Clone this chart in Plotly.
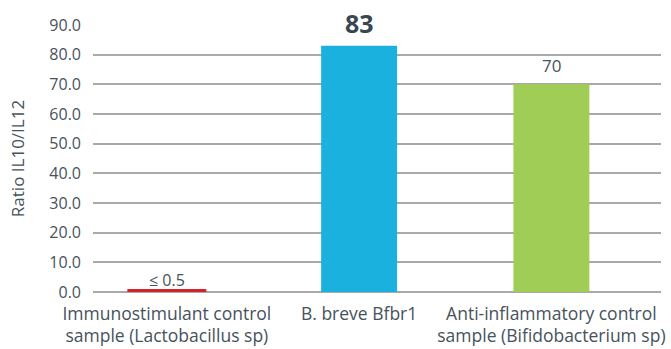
import plotly.graph_objects as go

# IL10/IL12 ratio per sample
categories = [
    "Immunostimulant control<br>sample (Lactobacillus sp)",
    "B. breve Bfbr1",
    "Anti-inflammatory control<br>sample (Bifidobacterium sp)",
]
ratios = [0.5, 83, 70]
value_labels = ["≤ 0.5", "83", "70"]
bar_colors = ["#d2232a", "#1bb1de", "#a0cd55"]
y_ticks = [0, 10, 20, 30, 40, 50, 60, 70, 80, 90]

text_color = "#46525c"
font_family = "Open Sans, Noto Sans, sans-serif"

fig = go.Figure()
fig.add_trace(go.Bar(
    x=categories,
    y=ratios,
    width=0.395,
    marker=dict(color=bar_colors, line=dict(color=bar_colors, width=[3, 0, 0])),
    hoverinfo="skip",
))

# value labels above each bar
label_fonts = [
    dict(size=16, color=text_color),
    dict(size=25, color="#3a4650", weight="bold"),
    dict(size=17, color=text_color),
]
label_shifts = [-2, 4, 5]
for cat, val, lab, f, s in zip(categories, ratios, value_labels, label_fonts, label_shifts):
    fig.add_annotation(
        x=cat, y=val, text=lab, showarrow=False,
        yanchor="bottom", yshift=s,
        font=dict(family=font_family, **f),
    )

fig.update_layout(
    width=671, height=349,
    margin=dict(l=93, r=10, t=25, b=57),
    paper_bgcolor="white", plot_bgcolor="white",
    showlegend=False,
    font=dict(family=font_family, color=text_color),
    bargap=0.6,
)
fig.update_xaxes(
    range=[-0.384, 2.57], automargin=False,
    showgrid=False, zeroline=False, showline=False,
    tickfont=dict(size=17.5, color=text_color),
    ticks="", ticklabelstandoff=9,
)
fig.update_yaxes(
    range=[0, 90], automargin=False,
    tickvals=y_ticks, tickformat=".1f",
    showgrid=True, gridcolor="#a9a9a9", gridwidth=1.5,
    zeroline=True, zerolinecolor="#a9a9a9", zerolinewidth=1.5,
    tickfont=dict(size=16, color=text_color),
    ticklabelstandoff=11,
    title=dict(text="Ratio IL10/IL12", font=dict(size=17, color=text_color), standoff=20),
)

fig.write_html("out.html")
